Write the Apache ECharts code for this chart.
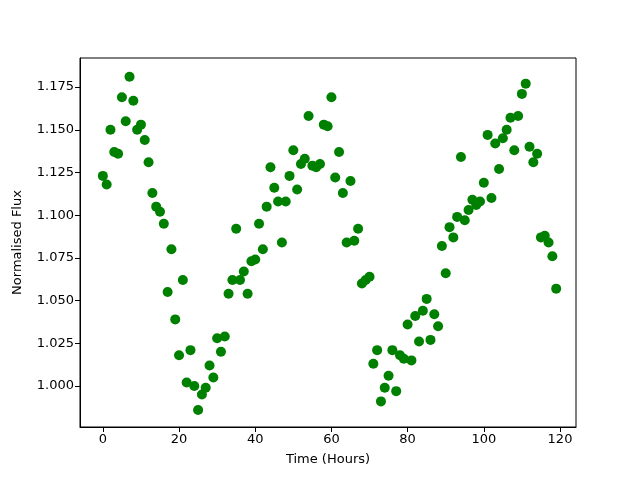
<!DOCTYPE html>
<html>
<head>
<meta charset="utf-8">
<script src="https://cdn.jsdelivr.net/npm/echarts@6/dist/echarts.min.js"></script>
<style>
  html, body { margin: 0; padding: 0; background: #fff; }
  #chart { width: 640px; height: 480px; }
</style>
</head>
<body>
<div id="chart"></div>
<script>
  // hours 0..119
  var hours = [];
  for (var h = 0; h < 120; h++) hours.push(h);

  var flux = [
    1.123, 1.118, 1.150, 1.137, 1.136, 1.169, 1.155, 1.181, 1.167, 1.150,
    1.153, 1.144, 1.131, 1.113, 1.105, 1.102, 1.095, 1.055, 1.080, 1.039,
    1.018, 1.062, 1.002, 1.021, 1.000, 0.986, 0.995, 0.999, 1.012, 1.005,
    1.028, 1.020, 1.029, 1.054, 1.062, 1.092, 1.062, 1.067, 1.054, 1.073,
    1.074, 1.095, 1.080, 1.105, 1.128, 1.116, 1.108, 1.084, 1.108, 1.123,
    1.138, 1.115, 1.130, 1.133, 1.158, 1.129, 1.128, 1.130, 1.153, 1.152,
    1.169, 1.122, 1.137, 1.113, 1.084, 1.120, 1.085, 1.092, 1.060, 1.062,
    1.064, 1.013, 1.021, 0.991, 0.999, 1.006, 1.021, 0.997, 1.018, 1.016,
    1.036, 1.015, 1.041, 1.026, 1.044, 1.051, 1.027, 1.042, 1.035, 1.082,
    1.066, 1.093, 1.087, 1.099, 1.134, 1.097, 1.103, 1.109, 1.106, 1.108,
    1.119, 1.147, 1.110, 1.142, 1.127, 1.145, 1.150, 1.157, 1.138, 1.158,
    1.171, 1.177, 1.140, 1.131, 1.136, 1.087, 1.088, 1.084, 1.076, 1.057
  ];

  var xTicks = [0, 20, 40, 60, 80, 100, 120];
  var yTicks = [1.000, 1.025, 1.050, 1.075, 1.100, 1.125, 1.150, 1.175];

  var points = hours.map(function (h, i) { return [h, flux[i]]; });

  var chart = echarts.init(document.getElementById('chart'));
  chart.setOption({
    animation: false,
    textStyle: { fontFamily: 'DejaVu Sans', color: '#000' },
    grid: {
      left: 80, right: 64, top: 58, bottom: 53,
      show: true, borderColor: '#000', borderWidth: 1, backgroundColor: '#fff'
    },
    xAxis: {
      type: 'value',
      min: -6,
      max: 124.2,
      name: 'Time (Hours)',
      nameLocation: 'middle',
      nameGap: 26,
      nameTextStyle: { fontSize: 13, color: '#000' },
      splitLine: { show: false },
      axisLine: { show: true, onZero: false, lineStyle: { color: '#000', width: 1 } },
      axisTick: { show: true, length: 5, customValues: xTicks, lineStyle: { color: '#000' } },
      axisLabel: {
        customValues: xTicks, fontSize: 13, color: '#000', margin: 6
      }
    },
    yAxis: {
      type: 'value',
      min: 0.976,
      max: 1.192,
      name: 'Normalised Flux',
      nameLocation: 'middle',
      nameGap: 56,
      nameTextStyle: { fontSize: 13, color: '#000' },
      splitLine: { show: false },
      axisLine: { show: true, onZero: false, lineStyle: { color: '#000', width: 1 } },
      axisTick: { show: true, length: 5, customValues: yTicks, lineStyle: { color: '#000' } },
      axisLabel: {
        customValues: yTicks, fontSize: 13, color: '#000', margin: 6,
        formatter: function (v) { return v.toFixed(3); }
      }
    },
    series: [{
      type: 'scatter',
      data: points,
      symbol: 'circle',
      symbolSize: 10,
      itemStyle: { color: '#008000', opacity: 1 }
    }]
  });
</script>
</body>
</html>
